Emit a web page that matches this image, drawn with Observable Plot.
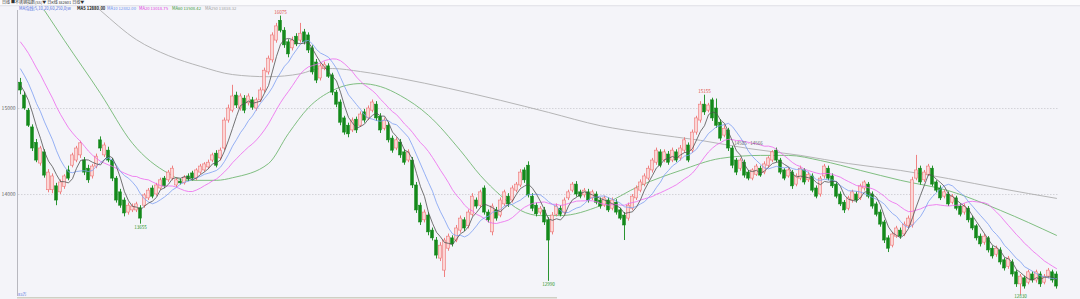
<!DOCTYPE html>
<html><head><meta charset="utf-8">
<script src="https://cdn.jsdelivr.net/npm/d3@7"></script>
<script src="https://cdn.jsdelivr.net/npm/@observablehq/plot@0.6"></script>
<style>
html,body{margin:0;padding:0;background:#f4f4f9;}
#chart{width:1080px;height:299px;overflow:hidden;}
</style></head>
<body><div id="chart"></div>
<script>
// ---- data (daily candles) ----
const open = [
15300,15150,14975,14780,14600,14360,14490,14050,14050,14095,
14025,14090,14280,14335,14395,14455,14395,14300,14210,14325,
14630,14455,14510,14395,14185,14025,13930,13790,13815,13815,
13840,13870,13955,14070,14000,14070,14185,14165,14185,14105,
14150,14130,14210,14245,14185,14255,14280,14315,14395,14475,
14420,14535,14860,14975,15150,15000,15115,15060,15095,15000,
15095,15210,15420,15560,15790,16020,15905,15770,15700,15835,
15790,15885,15850,15700,15535,15350,15465,15490,15385,15185,
15070,14885,14800,14745,14870,14800,14955,14885,14975,15045,
14905,14765,14800,14650,14535,14605,14490,14395,14395,14105,
13870,13700,13755,13580,13465,13255,13115,13370,13490,13465,
13580,13700,13630,13765,13930,13870,14070,13790,13560,13815,
13755,13885,13975,13930,14045,14105,14280,14335,13975,13870,
13790,13815,13700,13560,13765,13835,13790,13955,14045,14115,
14025,13990,14025,13955,14000,13930,13870,13930,13835,13905,
13815,13755,13720,13835,13955,14045,14115,14185,14280,14370,
14490,14395,14465,14395,14490,14420,14510,14570,14510,14720,
14860,15045,14975,15095,15000,14835,14685,14745,14535,14395,
14300,14370,14255,14185,14230,14300,14255,14335,14395,14510,
14395,14280,14210,14255,14115,14185,14280,14165,14210,14070,
14000,14210,14300,14210,14115,14000,13905,13835,13930,14000,
13955,14070,14115,14000,13885,13790,13675,13490,13405,13510,
13580,13535,13630,13640,14185,14300,14165,14230,14300,14140,
14070,13975,14000,13905,13955,13860,13790,13835,13720,13630,
13510,13440,13490,13370,13300,13350,13235,13160,13210,13095,
12955,13025,12975,13070,13000,13070,12975,13045,13095,13070];
const high = [
15350,15190,15000,14810,14640,14560,14520,14290,14240,14130,
14170,14230,14330,14480,14560,14620,14430,14340,14350,14470,
14670,14600,14550,14420,14210,14060,13960,13900,13890,13910,
13870,14010,14070,14100,14130,14190,14210,14280,14330,14190,
14180,14220,14240,14270,14300,14350,14370,14400,14480,14510,
14540,14890,15040,15270,15190,15170,15150,15170,15130,15120,
15240,15470,15610,15880,15990,16075,15940,15800,15830,15870,
15990,15920,15880,15730,15570,15520,15540,15520,15410,15210,
15100,14910,14830,14890,14900,14960,14990,15030,15100,15080,
14940,14890,14840,14680,14660,14640,14520,14520,14430,14140,
13900,13820,13790,13610,13500,13440,13490,13540,13520,13640,
13750,13730,13820,14010,13960,14050,14100,13820,13890,13850,
13960,14050,14010,14100,14140,14290,14310,14380,14010,13900,
13860,13850,13730,13790,13890,13870,13960,14050,14140,14150,
14050,14070,14060,14050,14030,13960,13980,13960,13960,13940,
13840,13790,13900,14000,14100,14170,14240,14330,14420,14540,
14520,14520,14500,14540,14520,14570,14660,14600,14750,14910,
15080,15155,15060,15120,15110,14870,14800,14770,14560,14420,
14420,14400,14280,14300,14350,14330,14380,14440,14510,14540,
14420,14300,14300,14280,14240,14330,14300,14260,14240,14100,
14210,14350,14330,14240,14140,14030,13930,13980,14050,14030,
14120,14160,14140,14030,13910,13820,13700,13520,13560,13630,
13610,13680,13750,14200,14455,14330,14280,14350,14330,14160,
14100,14050,14030,14000,13980,13890,13890,13860,13750,13650,
13540,13540,13510,13400,13400,13380,13260,13280,13240,13120,
13070,13050,13120,13100,13120,13100,13070,13140,13120,13100];
const low = [
15160,14980,14780,14500,14370,14330,14190,14020,14010,13870,
14000,14060,14160,14310,14370,14420,14220,14130,14180,14300,
14500,14430,14370,14150,13900,13840,13740,13760,13790,13790,
13655,13840,13930,13950,13980,14050,14070,14140,14160,14080,
14110,14110,14150,14160,14160,14230,14260,14290,14370,14310,
14390,14510,14830,14950,15000,14970,14940,15030,14980,14970,
15070,15180,15390,15530,15760,15880,15700,15590,15670,15720,
15760,15740,15640,15390,15290,15320,15440,15350,15150,15010,
14800,14690,14660,14720,14710,14780,14830,14860,14950,14850,
14710,14740,14600,14480,14510,14420,14340,14370,14070,13780,
13640,13670,13520,13460,13250,13220,13035,13340,13390,13440,
13550,13570,13600,13740,13830,13840,13760,13670,13520,13690,
13730,13860,13850,13900,14020,14080,14130,13960,13800,13740,
13760,13640,12990,13530,13740,13740,13760,13930,14020,13970,
13950,13960,13900,13930,13880,13830,13850,13790,13810,13760,
13700,13465,13690,13810,13930,14020,14090,14160,14250,14340,
14310,14370,14340,14370,14370,14390,14480,14370,14480,14690,
14830,14920,14950,14850,14770,14620,14660,14500,14300,14220,
14270,14190,14160,14160,14210,14200,14230,14310,14370,14370,
14230,14160,14190,14060,14090,14160,14110,14140,14020,13950,
13970,14180,14160,14070,13950,13860,13780,13810,13900,13900,
13930,14040,13950,13830,13740,13620,13430,13325,13380,13490,
13480,13510,13600,13610,14160,14110,14140,14210,14090,14020,
13930,13950,13860,13880,13810,13740,13760,13670,13580,13460,
13390,13410,13320,13250,13270,13180,13110,13130,13040,12920,
12830,12900,12950,12970,12970,12920,12950,13020,12970,12900];
const close = [
15210,15000,14800,14535,14395,14535,14220,14255,14210,13930,
14140,14210,14185,14455,14535,14595,14255,14165,14325,14440,
14535,14570,14395,14185,13930,13870,13780,13870,13860,13885,
13720,13990,14045,13975,14105,14165,14095,14255,14300,14165,
14130,14195,14175,14185,14280,14325,14350,14370,14455,14335,
14510,14860,15000,15140,15035,15140,14975,15140,15010,15095,
15210,15440,15580,15850,15955,15905,15735,15630,15790,15745,
15870,15770,15675,15420,15325,15490,15510,15370,15185,15045,
14835,14720,14700,14860,14745,14930,14860,15000,15070,14885,
14745,14860,14630,14510,14630,14455,14370,14490,14105,13815,
13675,13790,13560,13490,13290,13405,13465,13510,13420,13605,
13720,13605,13790,13975,13860,14025,13790,13700,13860,13720,
13930,14025,13885,14070,14115,14255,14165,13990,13835,13770,
13835,13675,13465,13755,13860,13765,13930,14025,14115,14000,
13975,14045,13930,14025,13905,13860,13955,13815,13930,13790,
13720,13640,13870,13975,14070,14140,14210,14300,14395,14510,
14335,14490,14370,14510,14395,14535,14630,14395,14720,14885,
15045,14955,15035,14885,14800,14650,14765,14535,14335,14255,
14395,14220,14185,14280,14325,14220,14350,14420,14490,14395,
14255,14185,14280,14095,14210,14300,14140,14230,14045,13975,
14185,14325,14185,14095,13975,13885,13815,13955,14025,13930,
14095,14140,13975,13860,13765,13650,13465,13370,13535,13605,
13510,13650,13720,14165,14280,14140,14255,14325,14115,14045,
13955,14025,13885,13975,13835,13765,13860,13700,13605,13490,
13420,13510,13350,13280,13370,13210,13140,13255,13070,12955,
13045,12930,13095,13000,13095,12955,13045,13115,13000,12930];
// closes before the first visible day (needed for MA5/10/20 at the left edge)
const priorCloses = [16250,16200,16180,16150,16100,16080,16050,16000,15950,15900,
  15800,15700,15650,15600,15500,15400,15300,15250,15200];
// long moving averages at sample days
const ma60Day = [0,6,11,20,28,37,41,49,53,62,67,72,78,85,90,95,102,110,115,120,125,130,135,145,155,165,175,185,192,200,210,220,232,245,259];
const ma60Val = [16550,16140,15790,15175,14595,14245,14165,14165,14195,14360,14710,15010,15210,15290,15255,15150,14920,14510,14220,13990,13815,13755,13755,13870,14105,14280,14420,14455,14455,14395,14280,14165,14045,13815,13525];
const ma250Day = [0,10,20,29,37,45,53,62,70,75,78,85,95,107,120,132,145,157,170,182,195,207,220,232,245,259];
const ma250Val = [16950,16560,16140,15800,15615,15490,15395,15370,15405,15465,15465,15430,15350,15235,15095,14955,14800,14710,14630,14535,14455,14360,14280,14185,14070,13955];
// extreme labels
const extDay = [65,30,132,171,250];
const extVal = [16075,13655,12990,15155,12830];
const extKind = ["high","low","low","high","low"];
const gridTicks = [14000,15000];
const legendItems = ["MA均线(5,10,20,60,250,0)w","MA5 12880.00","MA10 12882.00","MA20 13018.75","MA60 13508.42","MA250 13838.32"];
const headerText = "日线 ■不锈钢指数(SS)▼ 日K线 ss2601 日线▼";
const rangeNote = "14505 - 14566";
const volNote = "83万";

// ---- build ----
const UP = "#ee7474", UPFILL = "#fbd6d6", DN = "#13891a";
const data = close.map((c,i)=>({i, o:open[i], h:high[i], l:low[i], c, up: c>=open[i]}));
const all = priorCloses.concat(close);
const P = priorCloses.length;
function ma(n){ return close.map((c,i)=>({i, v: d3.mean(all.slice(i+P-n+1, i+P+1))})); }
const ma5 = ma(5), ma10 = ma(10), ma20 = ma(20);
const ma60 = ma60Day.map((d,k)=>({i:d, v:ma60Val[k]}));
const ma250 = ma250Day.map((d,k)=>({i:d, v:ma250Val[k]}));
const ext = extDay.map((d,k)=>({i:d, v:extVal[k], kind:extKind[k], t:String(extVal[k])}));

const chart = Plot.plot({
  width:1080, height:299,
  marginLeft:18, marginRight:22, marginTop:10, marginBottom:3,
  x:{domain:[-0.5,259.5], axis:null},
  y:{domain:[12814,16140]},
  style:{background:"#f4f4f9", fontSize:"5px", fontFamily:"'Noto Sans CJK SC','Noto Sans',sans-serif", overflow:"hidden"},
  marks:[
    Plot.ruleY(gridTicks, {stroke:"#c4c4cc", strokeDasharray:"1.5,1.5", strokeWidth:0.7}),
    Plot.axisY(gridTicks, {tickSize:0, tickPadding:3, tickFormat:"d", fill:"#666", label:null}),
    Plot.ruleX([-0.75], {stroke:"#a8a8b0", strokeWidth:0.8}),
    Plot.line(ma250, {x:"i", y:"v", stroke:"#a4a4a4", strokeWidth:0.8, curve:"monotone-x", clip:true}),
    Plot.line(ma60, {x:"i", y:"v", stroke:"#62b062", strokeWidth:0.8, curve:"monotone-x", clip:true}),
    Plot.ruleX(data, {x:"i", y1:"l", y2:"h", stroke:d=>d.up?UP:DN, strokeWidth:0.9}),
    Plot.rect(data, {x1:d=>d.i-0.34, x2:d=>d.i+0.34, y1:"o", y2:"c",
      fill:d=>d.up?UPFILL:DN, stroke:d=>d.up?UP:DN, strokeWidth:0.6}),
    Plot.line(ma20, {x:"i", y:"v", stroke:"#ee66ee", strokeWidth:0.8, clip:true}),
    Plot.line(ma10, {x:"i", y:"v", stroke:"#7c9ef2", strokeWidth:0.8, clip:true}),
    Plot.line(ma5, {x:"i", y:"v", stroke:"#505050", strokeWidth:0.8, clip:true}),
    Plot.text(ext, {x:"i", y:"v", text:"t", fill:d=>d.kind==="high"?"#e0504a":"#2a962a",
      lineAnchor:"middle", fontSize:4.6}),
    Plot.text([{i:182, v:14593, t:rangeNote}], {x:"i", y:"v", text:"t", fill:"#666", fontSize:4.5})
  ]
});
// shift extreme labels above/below their candles
d3.select(chart).selectAll("text").each(function(){
  const t = this.textContent;
  const k = extVal.map(String).indexOf(t);
  if(k>=0){
    let dy = extKind[k]==="high" ? -3.5 : 3.5;
    if(extVal[k] < 12900) dy = 1.2;
    d3.select(this).attr("dy", dy);
  }
});
document.getElementById("chart").appendChild(chart);

// header, legend and footer text
const svg = d3.select(chart);
svg.append("rect").attr("x",0).attr("y",0).attr("width",1080).attr("height",5.5).attr("fill","#fbfbfd");
svg.append("line").attr("x1",0).attr("x2",1080).attr("y1",5.7).attr("y2",5.7).attr("stroke","#d2d2da").attr("stroke-width",0.6);
svg.append("text").attr("x",2).attr("y",3.1).attr("text-anchor","start").attr("dominant-baseline","middle")
  .attr("font-size",4.0).attr("fill","#333").text(headerText);
const legX = [19,77,107,139,172,205];
const legC = ["#4f6fe0","#222","#6a8ff0","#e040e0","#3a9a3a","#a0a0a0"];
legendItems.forEach((t,k)=>{
  svg.append("text").attr("x",legX[k]).attr("y",8.9).attr("text-anchor","start").attr("dominant-baseline","middle")
    .attr("font-size",4.2).attr("fill",legC[k]).attr("font-weight",k===1?"bold":"normal").text(t);
});
svg.append("line").attr("x1",17).attr("x2",557).attr("y1",297.8).attr("y2",297.8).attr("stroke","#cfd0c4").attr("stroke-width",1.4);
svg.append("text").attr("x",18).attr("y",295.3).attr("text-anchor","start").attr("dominant-baseline","middle")
  .attr("font-size",4.0).attr("fill","#4f6fe0").text(volNote);
</script></body></html>
